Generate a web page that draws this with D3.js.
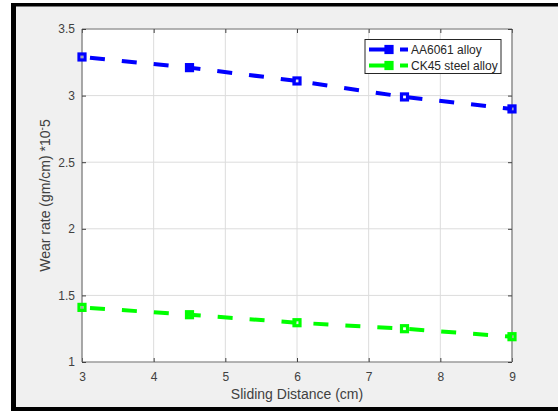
<!DOCTYPE html>
<html><head><meta charset="utf-8">
<script src="https://cdn.jsdelivr.net/npm/d3@7"></script>
<style>body{margin:0;background:#fff}svg{display:block}</style>
</head><body>
<script>
const xValues = [3, 4.5, 6, 7.5, 9];
const aa6061 = [3.29, 3.21, 3.11, 2.99, 2.90];
const ck45 = [1.41, 1.355, 1.295, 1.25, 1.19];
const seriesNames = ["AA6061 alloy", "CK45 steel alloy"];
const seriesColors = ["#0000ff", "#00ff00"];
const xTicks = [3, 4, 5, 6, 7, 8, 9];
const yTicks = [1, 1.5, 2, 2.5, 3, 3.5];

const W = 558, H = 411;
const svg = d3.select("body").append("svg").attr("width", W).attr("height", H);
const font = "'Liberation Sans', Arial, sans-serif";

// background & frame
svg.append("rect").attr("x", 0).attr("y", 0).attr("width", W).attr("height", H).attr("fill", "#ffffff");
svg.append("rect").attr("x", 12).attr("y", 3).attr("width", W - 12).attr("height", H - 3).attr("fill", "#f0f0f0");
svg.append("rect").attr("x", 11).attr("y", 3).attr("width", W - 11).attr("height", 3.5).attr("fill", "#000");
svg.append("rect").attr("x", 11).attr("y", 3).attr("width", 5).attr("height", H - 3).attr("fill", "#000");
svg.append("rect").attr("x", 11).attr("y", 407).attr("width", W - 11).attr("height", 4).attr("fill", "#000");

const L = 82, R = 512, T = 29, B = 362;
const x = d3.scaleLinear().domain([3, 9]).range([L, R]);
const y = d3.scaleLinear().domain([1, 3.5]).range([B, T]);

svg.append("rect").attr("x", L).attr("y", T).attr("width", R - L).attr("height", B - T).attr("fill", "#fff");

// grid
const g = svg.append("g");
g.selectAll(".gx").data(xTicks).join("line")
  .attr("x1", d => x(d)).attr("x2", d => x(d)).attr("y1", T).attr("y2", B)
  .attr("stroke", "#dcdcdc").attr("stroke-width", 1);
g.selectAll(".gy").data(yTicks).join("line")
  .attr("y1", d => y(d)).attr("y2", d => y(d)).attr("x1", L).attr("x2", R)
  .attr("stroke", "#dcdcdc").attr("stroke-width", 1);

// axes
const axCol = "#404040";
const xAxis = svg.append("g").attr("transform", `translate(0,${B})`)
  .call(d3.axisBottom(x).tickValues(xTicks).tickSize(-4).tickPadding(10).tickFormat(d3.format("d")));
const xAxisTop = svg.append("g").attr("transform", `translate(0,${T})`)
  .call(d3.axisTop(x).tickValues(xTicks).tickSize(-4).tickFormat(""));
const yAxis = svg.append("g").attr("transform", `translate(${L},0)`)
  .call(d3.axisLeft(y).tickValues(yTicks).tickSize(-4).tickPadding(7).tickFormat(d => d));
const yAxisR = svg.append("g").attr("transform", `translate(${R},0)`)
  .call(d3.axisRight(y).tickValues(yTicks).tickSize(-4).tickFormat(""));
[xAxis, xAxisTop, yAxis, yAxisR].forEach(a => {
  a.select(".domain").attr("stroke", "#7a7a7a").attr("stroke-width", 1.2);
  a.selectAll(".tick line").attr("stroke", "#404040");
  a.selectAll("text").attr("fill", axCol).attr("font-family", font).attr("font-size", 12);
});
xAxis.selectAll(".domain").attr("d", `M${L},0H${R}`);
yAxis.selectAll(".domain").attr("d", `M0,${B}V${T}`);
xAxisTop.selectAll(".domain").attr("d", `M${L},0H${R}`);
yAxisR.selectAll(".domain").attr("d", `M0,${B}V${T}`);

// series
const allSeries = [aa6061, ck45];
allSeries.forEach((vals, i) => {
  const pts = xValues.map((xv, j) => [xv, vals[j]]);
  svg.append("path").datum(pts)
    .attr("d", d3.line().x(d => x(d[0])).y(d => y(d[1])))
    .attr("fill", "none").attr("stroke", seriesColors[i]).attr("stroke-width", 4)
    .attr("stroke-dasharray", "15,17").attr("stroke-dashoffset", -8);
  svg.selectAll(null).data(pts).join("rect")
    .attr("x", d => x(d[0]) - 3).attr("y", d => y(d[1]) - 3)
    .attr("width", 6).attr("height", 6)
    .attr("fill", "none").attr("stroke", seriesColors[i]).attr("stroke-width", 3.2);
});

// legend
const lg = svg.append("g");
lg.append("rect").attr("x", 365).attr("y", 39.5).attr("width", 136).attr("height", 34)
  .attr("fill", "#fff").attr("stroke", "#262626").attr("stroke-width", 1);
seriesNames.forEach((name, i) => {
  const cy = 49.5 + i * 16;
  lg.append("line").attr("x1", 369).attr("x2", 393).attr("y1", cy).attr("y2", cy)
    .attr("stroke", seriesColors[i]).attr("stroke-width", 4);
  lg.append("line").attr("x1", 400).attr("x2", 408).attr("y1", cy).attr("y2", cy)
    .attr("stroke", seriesColors[i]).attr("stroke-width", 4);
  lg.append("rect").attr("x", 386).attr("y", cy - 3).attr("width", 6).attr("height", 6)
    .attr("fill", "none").attr("stroke", seriesColors[i]).attr("stroke-width", 3.2);
  lg.append("text").attr("x", 411).attr("y", cy + 4.3).text(name)
    .attr("font-family", font).attr("font-size", 12).attr("fill", "#262626");
});

// axis labels
svg.append("text").attr("x", (L + R) / 2).attr("y", 399).attr("text-anchor", "middle")
  .attr("font-family", font).attr("font-size", 14).attr("fill", axCol).text("Sliding Distance (cm)");
const yl = svg.append("text").attr("transform", `translate(50,${(T + B) / 2}) rotate(-90)`)
  .attr("text-anchor", "middle").attr("font-family", font).attr("font-size", 14).attr("fill", axCol);
yl.append("tspan").text("Wear rate (gm/cm) *10");
yl.append("tspan").attr("dy", -5).attr("font-size", 10).text("-");
yl.append("tspan").attr("dy", 5).text("5");
</script>
</body></html>
